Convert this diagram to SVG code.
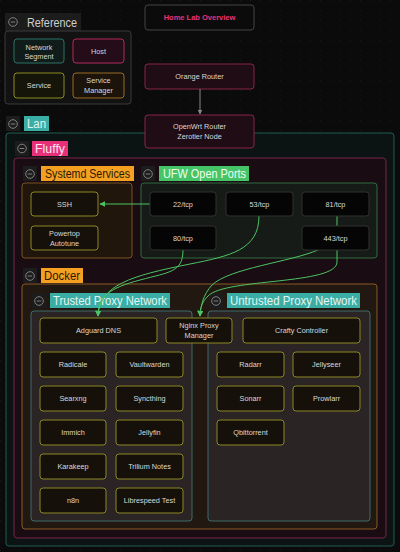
<svg xmlns="http://www.w3.org/2000/svg" width="400" height="552" viewBox="0 0 400 552">
<defs>
<pattern id="dots" width="10" height="10" patternUnits="userSpaceOnUse"><rect x="0" y="0" width="1" height="1" fill="#1a1a1a"/></pattern>
<marker id="ag" viewBox="0 0 10 10" refX="9" refY="5" markerWidth="6" markerHeight="6" orient="auto"><path d="M0,0 L10,5 L0,10 z" fill="#4cc463"/></marker>
<marker id="agr" viewBox="0 0 10 10" refX="9" refY="5" markerWidth="5" markerHeight="5" orient="auto"><path d="M0,0 L10,5 L0,10 z" fill="#888"/></marker>
<style>
text{font-family:"Liberation Sans",Arial,sans-serif}
.lbl{font-size:7.3px;fill:#d8d8d8;text-anchor:middle}
.svc{fill:#15110a;stroke:#8c8624;stroke-width:1}
.port{fill:#050505;stroke:#303030;stroke-width:1}
.host{fill:#1f0c15;stroke:#8a2548;stroke-width:1}
.ico{fill:#1c1c1c}
.icc{fill:none;stroke:#8a8a8a;stroke-width:0.9}
.badge{font-size:12.5px}
.edge{fill:none;stroke:#4cc463;stroke-width:1}
</style>
</defs>
<rect width="400" height="552" fill="#0b0b0b"/>
<rect width="400" height="552" fill="url(#dots)"/>

<!-- Legend -->
<g id="legend">
<rect x="5" y="13" width="76" height="18" fill="#1c1c1c"/>
<circle cx="13" cy="22" r="4.3" class="icc"/><line x1="10.8" y1="22" x2="15.2" y2="22" stroke="#8a8a8a" stroke-width="0.9"/>
<text x="27" y="26.5" font-size="12.5" fill="#cfcfcf" textLength="50" lengthAdjust="spacingAndGlyphs">Reference</text>
<rect x="5" y="31" width="126" height="73" rx="3" fill="#121212" stroke="#3a3a3a"/>
<g id="leg-segment"><rect x="14" y="39" width="50" height="24" rx="3" fill="#0f1c1a" stroke="#2d7065"/><text class="lbl" x="39" y="49.5">Network</text><text class="lbl" x="39" y="59">Segment</text></g>
<g id="leg-host"><rect x="73" y="39" width="51" height="24" rx="3" fill="#240c18" stroke="#b02a5a"/><text class="lbl" x="98.5" y="54">Host</text></g>
<g id="leg-service"><rect x="14" y="73" width="50" height="25" rx="3" fill="#16150a" stroke="#8a8a25"/><text class="lbl" x="39" y="88">Service</text></g>
<g id="leg-manager"><rect x="73" y="73" width="51" height="25" rx="3" fill="#1c140a" stroke="#9a6a25"/><text class="lbl" x="98.5" y="83">Service</text><text class="lbl" x="98.5" y="93">Manager</text></g>
</g>

<g id="title"><rect x="145" y="5" width="109" height="25" rx="3" fill="#0b0b0b" stroke="#444"/><text x="199.5" y="20" font-size="7.5" font-weight="bold" fill="#e8337a" text-anchor="middle">Home Lab Overview</text></g>

<g id="orange-router"><rect x="145" y="64" width="109" height="25" rx="3" class="host"/><text class="lbl" x="199.5" y="79">Orange Router</text></g>

<!-- Lan -->
<g id="lan">
<rect x="6" y="133" width="388" height="413" rx="3" fill="#0c1413" stroke="#1f5c55"/>
<rect x="6" y="116" width="14" height="15" class="ico"/>
<circle cx="13" cy="124" r="4.3" class="icc"/><line x1="10.8" y1="124" x2="15.2" y2="124" stroke="#8a8a8a" stroke-width="0.9"/>
<rect x="24" y="116" width="25" height="15" fill="#3aaea4"/>
<text class="badge" x="27" y="128" fill="#e6f4f2" textLength="19" lengthAdjust="spacingAndGlyphs">Lan</text>
</g>

<g id="openwrt"><rect x="145" y="115" width="109" height="33" rx="3" class="host"/><text class="lbl" x="199.5" y="129">OpenWrt Router</text><text class="lbl" x="199.5" y="139">Zerotier Node</text></g>

<!-- Fluffy -->
<g id="fluffy">
<rect x="14" y="158" width="372" height="380" rx="3" fill="#190c13" stroke="#7a2348"/>
<rect x="15" y="141" width="14" height="15" class="ico"/>
<circle cx="22" cy="148.5" r="4.3" class="icc"/><line x1="19.8" y1="148.5" x2="24.2" y2="148.5" stroke="#8a8a8a" stroke-width="0.9"/>
<rect x="32" y="141" width="36" height="15" fill="#e8307a"/>
<text class="badge" x="35" y="153" fill="#fde6ef" textLength="30" lengthAdjust="spacingAndGlyphs">Fluffy</text>
</g>

<!-- Systemd -->
<g id="systemd">
<rect x="22" y="183" width="110" height="75" rx="3" fill="#21160c" stroke="#7a5220"/>
<rect x="23" y="166" width="14" height="15" class="ico"/>
<circle cx="30" cy="174" r="4.3" class="icc"/><line x1="27.8" y1="174" x2="32.2" y2="174" stroke="#8a8a8a" stroke-width="0.9"/>
<rect x="41" y="166" width="93" height="15" fill="#f5a021"/>
<text class="badge" x="45" y="178" fill="#2a1a05" textLength="85" lengthAdjust="spacingAndGlyphs">Systemd Services</text>
</g>

<!-- UFW -->
<g id="ufw">
<rect x="141" y="183" width="236" height="75" rx="3" fill="#171b17" stroke="#2f6a3c"/>
<rect x="141" y="166" width="14" height="15" class="ico"/>
<circle cx="148" cy="174" r="4.3" class="icc"/><line x1="145.8" y1="174" x2="150.2" y2="174" stroke="#8a8a8a" stroke-width="0.9"/>
<rect x="159" y="166" width="90" height="15" fill="#45c468"/>
<text class="badge" x="163" y="178" fill="#f0fff2" textLength="83" lengthAdjust="spacingAndGlyphs">UFW Open Ports</text>
</g>

<!-- Docker -->
<g id="docker">
<rect x="22" y="284" width="355" height="245" rx="3" fill="#221812" stroke="#8a5a25"/>
<rect x="23" y="268" width="14" height="15" class="ico"/>
<circle cx="30" cy="276" r="4.3" class="icc"/><line x1="27.8" y1="276" x2="32.2" y2="276" stroke="#8a8a8a" stroke-width="0.9"/>
<rect x="41" y="268" width="42" height="15" fill="#f5a021"/>
<text class="badge" x="44" y="280" fill="#2a1a05" textLength="36" lengthAdjust="spacingAndGlyphs">Docker</text>
</g>

<g id="trusted">
<rect x="31" y="311" width="161" height="210" rx="3" fill="#2b2424" stroke="#3f6b68"/>
<rect x="32" y="293" width="14" height="15" class="ico"/>
<circle cx="39" cy="301" r="4.3" class="icc"/><line x1="36.8" y1="301" x2="41.2" y2="301" stroke="#8a8a8a" stroke-width="0.9"/>
<rect x="50" y="293" width="120" height="15" fill="#3aaea4"/>
<text class="badge" x="53" y="305" fill="#e6f4f2" textLength="114" lengthAdjust="spacingAndGlyphs">Trusted Proxy Network</text>
</g>

<g id="untrusted">
<rect x="208" y="311" width="162" height="210" rx="3" fill="#2b2424" stroke="#3f6b68"/>
<rect x="209" y="293" width="14" height="15" class="ico"/>
<circle cx="216" cy="301" r="4.3" class="icc"/><line x1="213.8" y1="301" x2="218.2" y2="301" stroke="#8a8a8a" stroke-width="0.9"/>
<rect x="227" y="293" width="133" height="15" fill="#3aaea4"/>
<text class="badge" x="230" y="305" fill="#e6f4f2" textLength="127" lengthAdjust="spacingAndGlyphs">Untrusted Proxy Network</text>
</g>

<!-- Connectors -->
<g id="connectors">
<line x1="200" y1="89" x2="200" y2="114" stroke="#888" stroke-width="1" marker-end="url(#agr)"/>
<line class="edge" x1="150" y1="204" x2="100" y2="204" marker-end="url(#ag)"/>
<path class="edge" d="M259,216 C259,250 230,256 190,264 C130,276 100,285 98,316" marker-end="url(#ag)"/>
<path class="edge" d="M183,250 C183,272 170,272 140,280 C110,288 98,296 98,316" marker-end="url(#ag)"/>
<path class="edge" d="M318,250 C290,262 230,268 212,285 C203,295 201,305 200,316" marker-end="url(#ag)"/>
<path class="edge" d="M337,216 L337,262 C337,285 225,278 208,296 C202,302 200,308 200,316" marker-end="url(#ag)"/>
</g>

<!-- Nodes -->
<g id="ssh"><rect x="31" y="192" width="67" height="24" rx="3" class="svc"/><text class="lbl" x="64.5" y="206.5">SSH</text></g>
<g id="powertop"><rect x="31" y="226" width="67" height="24" rx="3" class="svc"/><text class="lbl" x="64.5" y="236">Powertop</text><text class="lbl" x="64.5" y="246">Autotune</text></g>

<g id="p22"><rect x="150" y="192" width="66" height="24" rx="3" class="port"/><text class="lbl" x="183" y="206.5">22/tcp</text></g>
<g id="p53"><rect x="226" y="192" width="67" height="24" rx="3" class="port"/><text class="lbl" x="259.5" y="206.5">53/tcp</text></g>
<g id="p81"><rect x="302" y="192" width="67" height="24" rx="3" class="port"/><text class="lbl" x="335.5" y="206.5">81/tcp</text></g>
<g id="p80"><rect x="150" y="226" width="66" height="24" rx="3" class="port"/><text class="lbl" x="183" y="240.5">80/tcp</text></g>
<g id="p443"><rect x="302" y="226" width="67" height="24" rx="3" class="port"/><text class="lbl" x="335.5" y="240.5">443/tcp</text></g>

<g id="adguard"><rect x="40" y="318" width="117" height="25" rx="3" class="svc"/><text class="lbl" x="98.5" y="333">Adguard DNS</text></g>
<g id="npm"><rect x="166" y="318" width="66" height="25" rx="3" class="svc"/><text class="lbl" x="199" y="328">Nginx Proxy</text><text class="lbl" x="199" y="338">Manager</text></g>
<g id="crafty"><rect x="243" y="318" width="117" height="25" rx="3" class="svc"/><text class="lbl" x="301.5" y="333">Crafty Controller</text></g>

<g id="radicale"><rect x="40" y="352" width="66" height="25" rx="3" class="svc"/><text class="lbl" x="73" y="367">Radicale</text></g>
<g id="vaultwarden"><rect x="116" y="352" width="67" height="25" rx="3" class="svc"/><text class="lbl" x="149.5" y="367">Vaultwarden</text></g>
<g id="searxng"><rect x="40" y="386" width="66" height="25" rx="3" class="svc"/><text class="lbl" x="73" y="401">Searxng</text></g>
<g id="syncthing"><rect x="116" y="386" width="67" height="25" rx="3" class="svc"/><text class="lbl" x="149.5" y="401">Syncthing</text></g>
<g id="immich"><rect x="40" y="420" width="66" height="25" rx="3" class="svc"/><text class="lbl" x="73" y="435">Immich</text></g>
<g id="jellyfin"><rect x="116" y="420" width="67" height="25" rx="3" class="svc"/><text class="lbl" x="149.5" y="435">Jellyfin</text></g>
<g id="karakeep"><rect x="40" y="454" width="66" height="25" rx="3" class="svc"/><text class="lbl" x="73" y="469">Karakeep</text></g>
<g id="trilium"><rect x="116" y="454" width="67" height="25" rx="3" class="svc"/><text class="lbl" x="149.5" y="469">Trilium Notes</text></g>
<g id="n8n"><rect x="40" y="488" width="66" height="25" rx="3" class="svc"/><text class="lbl" x="73" y="503">n8n</text></g>
<g id="librespeed"><rect x="116" y="488" width="67" height="25" rx="3" class="svc"/><text class="lbl" x="149.5" y="503">Librespeed Test</text></g>

<g id="radarr"><rect x="217" y="352" width="67" height="25" rx="3" class="svc"/><text class="lbl" x="250.5" y="367">Radarr</text></g>
<g id="jellyseer"><rect x="293" y="352" width="67" height="25" rx="3" class="svc"/><text class="lbl" x="326.5" y="367">Jellyseer</text></g>
<g id="sonarr"><rect x="217" y="386" width="67" height="25" rx="3" class="svc"/><text class="lbl" x="250.5" y="401">Sonarr</text></g>
<g id="prowlarr"><rect x="293" y="386" width="67" height="25" rx="3" class="svc"/><text class="lbl" x="326.5" y="401">Prowlarr</text></g>
<g id="qbittorrent"><rect x="217" y="420" width="67" height="25" rx="3" class="svc"/><text class="lbl" x="250.5" y="435">Qbittorrent</text></g>
</svg>
